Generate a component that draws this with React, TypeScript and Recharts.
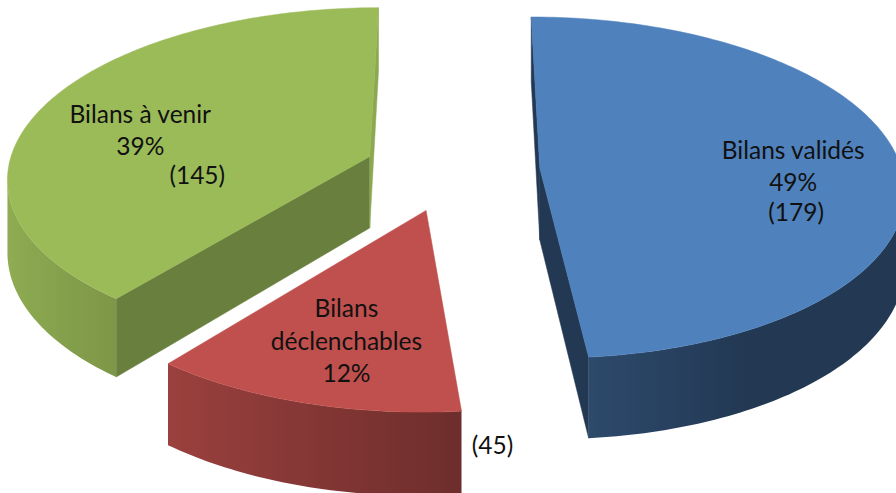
import React from 'react';
import { PieChart, Pie, Cell } from 'recharts';

const categories = ['Bilans validés', 'Bilans déclenchables', 'Bilans à venir'];
const counts = [179, 45, 145];
const colors = ['#4F81BD', '#C0504D', '#9BBB59'];

const data = categories.map((name, i) => ({ name, value: counts[i] }));

const W = 896;
const H = 493;

// fake 3D: the pie lies on a ground plane seen in perspective
const PIE_CX = 452;
const PIE_CY = 170;
const PIE_R = 362;
const VANISH_X = 456;
const PERSP = 0.000315;
const HORIZON = 1480;
const DEPTH = 72;
const EXPLODE = 88;

const LABEL_R = 0.68;
const LINE_H = 32.5;
const labelNudge = [[9, 3], [1, 4], [-7, 9]];
const valueNudge = [[3, 30], [146, 72], [57, 29]];
const cutShade = [[0.44, 0.44], [0.6, 0.6], [0.68, 0.9]];

const rad = (d: number) => (d * Math.PI) / 180;

function shade(hex: string, f: number) {
  const n = parseInt(hex.slice(1), 16);
  const r = (n >> 16) & 255;
  const g = (n >> 8) & 255;
  const b = n & 255;
  return `rgb(${Math.round(r * f)},${Math.round(g * f)},${Math.round(b * f)})`;
}

function area(pts: number[][]) {
  let a = 0;
  for (let i = 0; i < pts.length; i++) {
    const p = pts[i];
    const q = pts[(i + 1) % pts.length];
    a += p[0] * q[1] - q[0] * p[1];
  }
  return a / 2;
}

const toPoints = (pts: number[][]) => pts.map((p) => `${p[0].toFixed(2)},${p[1].toFixed(2)}`).join(' ');

function Slice3D(props: any) {
  const { cx, cy, outerRadius, startAngle, endAngle, percent, value, name, index } = props;
  // degrees clockwise from 12 o'clock
  const t1 = 90 - startAngle;
  const t2 = 90 - endAngle;
  const tm = (t1 + t2) / 2;

  const project = (u: number, v: number, h: number) => {
    const s = 1 / (1 + PERSP * v);
    return [VANISH_X + (u - VANISH_X) * s, cy + HORIZON * (s - 1) + h * DEPTH * s];
  };

  const u0 = cx + EXPLODE * Math.sin(rad(tm));
  const v0 = EXPLODE * Math.cos(rad(tm));
  const rim = (t: number, h: number) =>
    project(u0 + outerRadius * Math.sin(rad(t)), v0 + outerRadius * Math.cos(rad(t)), h);
  const ct = project(u0, v0, 0);
  const cb = project(u0, v0, 1);
  const color = colors[index];

  const steps = Math.max(2, Math.ceil(t2 - t1));
  const ts = Array.from({ length: steps + 1 }, (_, k) => t1 + ((t2 - t1) * k) / steps);

  const cuts: { pts: number[][]; fill: string }[] = [];
  const startFace = [ct, rim(t1, 0), rim(t1, 1), cb];
  const endFace = [ct, cb, rim(t2, 1), rim(t2, 0)];
  if (area(startFace) < 0) cuts.push({ pts: startFace, fill: shade(color, cutShade[index][0]) });
  if (area(endFace) < 0) cuts.push({ pts: endFace, fill: shade(color, cutShade[index][1]) });

  // outer wall: group visible segments into runs, one polygon + gradient per run
  const runs: number[][] = [];
  let cur: number[] = [];
  for (let k = 0; k < steps; k++) {
    const quad = [rim(ts[k], 0), rim(ts[k + 1], 0), rim(ts[k + 1], 1), rim(ts[k], 1)];
    if (area(quad) < 0) {
      if (cur.length === 0) cur.push(ts[k]);
      cur.push(ts[k + 1]);
    } else if (cur.length) {
      runs.push(cur);
      cur = [];
    }
  }
  if (cur.length) runs.push(cur);

  const walls = runs.map((run, r) => {
    const topPts = run.map((t) => rim(t, 0));
    const botPts = run.map((t) => rim(t, 1)).reverse();
    const xs = topPts.map((p) => p[0]);
    const xmin = Math.min(...xs);
    const xmax = Math.max(...xs);
    const stops = run
      .map((t, k) => {
        const f = Math.min(1, Math.max(0.44, 0.6 - 0.33 * Math.sin(rad(t))));
        return { off: (xs[k] - xmin) / Math.max(1, xmax - xmin), c: shade(color, f) };
      })
      .sort((a, b) => a.off - b.off);
    return { id: `wall-${index}-${r}`, pts: [...topPts, ...botPts], xmin, xmax, stops };
  });

  const top = [ct, ...ts.map((t) => rim(t, 0))];

  const sp = name.indexOf(' ');
  const nameLines = name.length > 15 ? [name.slice(0, sp), name.slice(sp + 1)] : [name];
  const lines = [...nameLines, `${Math.round(percent * 100)}%`];
  const anchor = project(
    u0 + LABEL_R * outerRadius * Math.sin(rad(tm)),
    v0 + LABEL_R * outerRadius * Math.cos(rad(tm)),
    0,
  );
  const lx = anchor[0] + labelNudge[index][0];
  const ly = anchor[1] + labelNudge[index][1];
  const y0 = ly - ((lines.length - 1) * LINE_H) / 2;
  const pctY = y0 + (lines.length - 1) * LINE_H;

  const textStyle = { fontFamily: 'Lato, sans-serif', fontSize: 24.5, fill: '#111' };

  return (
    <g>
      <defs>
        {walls.map((w) => (
          <linearGradient key={w.id} id={w.id} gradientUnits="userSpaceOnUse" x1={w.xmin} y1={0} x2={w.xmax} y2={0}>
            {w.stops.map((s, i) => (
              <stop key={i} offset={s.off} stopColor={s.c} />
            ))}
          </linearGradient>
        ))}
      </defs>
      {cuts.map((fc, i) => (
        <polygon key={i} points={toPoints(fc.pts)} fill={fc.fill} stroke={fc.fill} strokeWidth={0.5} />
      ))}
      {walls.map((w) => (
        <polygon key={w.id} points={toPoints(w.pts)} fill={`url(#${w.id})`} />
      ))}
      <polygon points={toPoints(top)} fill={color} stroke={color} strokeWidth={0.5} />
      {lines.map((ln, i) => (
        <text key={i} x={lx} y={y0 + i * LINE_H} textAnchor="middle" dominantBaseline="central" style={textStyle}>
          {ln}
        </text>
      ))}
      <text
        x={lx + valueNudge[index][0]}
        y={pctY + valueNudge[index][1]}
        textAnchor="middle"
        dominantBaseline="central"
        style={textStyle}
      >
        ({value})
      </text>
    </g>
  );
}

export default function App() {
  return (
    <div style={{ position: 'absolute', left: 0, top: 0, width: W, height: H, background: '#fff' }}>
      <PieChart width={W} height={H} margin={{ top: 0, right: 0, bottom: 0, left: 0 }}>
        <Pie
          data={data}
          dataKey="value"
          nameKey="name"
          cx={PIE_CX}
          cy={PIE_CY}
          outerRadius={PIE_R}
          startAngle={90}
          endAngle={-270}
          stroke="none"
          label={Slice3D}
          labelLine={false}
          isAnimationActive={false}
        >
          {data.map((d) => (
            <Cell key={d.name} fill="transparent" stroke="none" />
          ))}
        </Pie>
      </PieChart>
    </div>
  );
}
